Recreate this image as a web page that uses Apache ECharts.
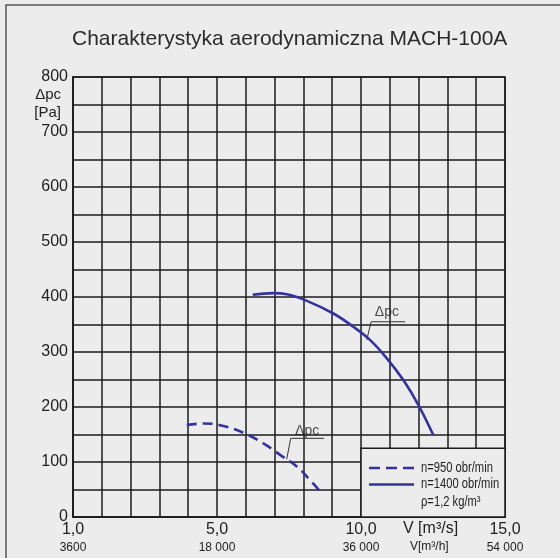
<!DOCTYPE html>
<html>
<head>
<meta charset="utf-8">
<script src="https://cdn.jsdelivr.net/npm/echarts@6/dist/echarts.min.js"></script>
<style>
  html, body { margin: 0; padding: 0; background: #ececec; }
  #main { width: 560px; height: 558px; }
</style>
</head>
<body>
<div id="main"></div>
<script>
// oś X w jednostkach siatki (15 kratek), podpisy co 5 kratek
const xTickPos = [0, 5, 10, 15]
const flowLabels = ['1,0', '5,0', '10,0', '15,0']         // V [m3/s]
const flowHourLabels = ['3600', '18 000', '36 000', '54 000'] // V [m3/h]

// krzywe: [kratka X, Δpc Pa]
const curve950 = [[3.95, 167], [4.53, 170], [5.11, 167], [5.92, 153], [6.61, 134],
  [7.19, 113], [7.77, 92], [8.23, 67], [8.64, 43]]
const curve1400 = [[6.24, 404], [6.96, 407], [7.42, 405], [8.12, 393], [9.04, 370],
  [9.73, 346], [10.31, 322], [10.89, 289], [11.47, 249], [11.99, 204], [12.51, 149]]

// odnośniki "Δpc"
const leader950 = [[7.42, 105], [7.56, 143], [8.72, 143]]
const leader1400 = [[10.2, 322], [10.35, 355], [11.53, 355]]
const leaderText = [[8.13, 157], [10.9, 372]]

const names = ['n=950 obr/min', 'n=1400 obr/min']
const blue = '#3532a0'
const ink = '#1c1c1c'
const font = "'Liberation Sans', Arial, sans-serif"

var myChart = echarts.init(document.getElementById('main'))

var option = {
  backgroundColor: '#ececec',
  animation: false,
  title: {
    text: 'Charakterystyka aerodynamiczna MACH-100A',
    left: 67,
    top: 24,
    textStyle: { fontFamily: font, fontSize: 21, fontWeight: 'normal', color: '#2b2b2b' }
  },
  grid: { left: 73, top: 77, width: 432, height: 440, show: true, borderColor: ink, borderWidth: 1.5 },
  xAxis: {
    type: 'value',
    min: 0,
    max: 15,
    interval: 1,
    axisLine: { lineStyle: { color: ink, width: 1.5 } },
    axisTick: { show: false },
    splitLine: { lineStyle: { color: ink, width: 1.5 } },
    axisLabel: {
      margin: 4,
      showMinLabel: true,
      showMaxLabel: true,
      hideOverlap: false,
      formatter: function (v) {
        let i = xTickPos.indexOf(v)
        if (i < 0) return ''
        return '{a|' + flowLabels[i] + '}\n{b|' + flowHourLabels[i] + '}'
      },
      rich: {
        a: { fontFamily: font, fontSize: 16, lineHeight: 18, color: '#222' },
        b: { fontFamily: font, fontSize: 12, lineHeight: 18, color: '#222' }
      }
    }
  },
  yAxis: {
    type: 'value',
    min: 0,
    max: 800,
    interval: 50,
    axisLine: { show: true, lineStyle: { color: ink, width: 1.5 } },
    axisTick: { show: false },
    splitLine: { lineStyle: { color: ink, width: 1.5 } },
    axisLabel: {
      margin: 5,
      fontFamily: font,
      fontSize: 16,
      color: '#222',
      showMaxLabel: true,
      formatter: v => (v % 100 === 0 ? String(v) : '')
    }
  },
  series: [
    {
      name: names[0],
      type: 'line',
      data: curve950,
      smooth: 0.4,
      symbol: 'none',
      z: 5,
      lineStyle: { color: blue, width: 2.6, type: [10, 6] }
    },
    {
      name: names[1],
      type: 'line',
      data: curve1400,
      smooth: 0.4,
      symbol: 'none',
      z: 5,
      lineStyle: { color: blue, width: 2.6 }
    },
    {
      type: 'line',
      data: leader950,
      symbol: 'none',
      silent: true,
      z: 4,
      lineStyle: { color: '#333', width: 1 }
    },
    {
      type: 'line',
      data: leader1400,
      symbol: 'none',
      silent: true,
      z: 4,
      lineStyle: { color: '#333', width: 1 }
    },
    {
      type: 'scatter',
      data: leaderText,
      symbolSize: 1,
      silent: true,
      itemStyle: { color: 'rgba(0,0,0,0)' },
      label: {
        show: true,
        position: 'inside',
        formatter: 'Δpc',
        fontFamily: font,
        fontSize: 14,
        color: '#222'
      }
    }
  ]
}

myChart.setOption(option)

// ramka legendy zasłania siatkę w prawym dolnym rogu
let p0 = myChart.convertToPixel({ gridIndex: 0 }, [10, 125])
let p1 = myChart.convertToPixel({ gridIndex: 0 }, [15, 0])
let lx = p0[0] + 8

function legendText(txt, y) {
  return {
    type: 'text',
    z: 20,
    x: lx + 52,
    y: y,
    scaleX: 0.8,
    style: { text: txt, font: '14px ' + font, fill: '#222', textVerticalAlign: 'middle' }
  }
}

myChart.setOption({
  graphic: [
    {
      type: 'rect',
      z: 10,
      shape: { x: 6, y: 5, width: 600, height: 600 },
      style: { fill: 'none', stroke: '#555', lineWidth: 1.5 }
    },
    {
      type: 'rect',
      z: 10,
      shape: { x: p0[0], y: p0[1], width: p1[0] - p0[0], height: p1[1] - p0[1] },
      style: { fill: '#ececec', stroke: ink, lineWidth: 1.5 }
    },
    {
      type: 'line',
      z: 20,
      shape: { x1: lx, y1: 468, x2: lx + 45, y2: 468 },
      style: { stroke: blue, lineWidth: 2.6, lineDash: [11, 6] }
    },
    {
      type: 'line',
      z: 20,
      shape: { x1: lx, y1: 484.5, x2: lx + 45, y2: 484.5 },
      style: { stroke: blue, lineWidth: 2.6 }
    },
    legendText(names[0], 468),
    legendText(names[1], 484.5),
    legendText('ρ=1,2 kg/m³', 502),
    {
      type: 'text',
      z: 20,
      right: 560 - 61,
      top: 87,
      style: { text: 'Δpc', font: '15px ' + font, fill: '#222', textAlign: 'right' }
    },
    {
      type: 'text',
      z: 20,
      right: 560 - 61,
      top: 105,
      style: { text: '[Pa]', font: '15px ' + font, fill: '#222', textAlign: 'right' }
    },
    {
      type: 'text',
      z: 20,
      left: 403,
      top: 521,
      style: { text: 'V [m³/s]', font: '16px ' + font, fill: '#222' }
    },
    {
      type: 'text',
      z: 20,
      left: 410,
      top: 541,
      style: { text: 'V[m³/h]', font: '12px ' + font, fill: '#222' }
    }
  ]
})
</script>
</body>
</html>
